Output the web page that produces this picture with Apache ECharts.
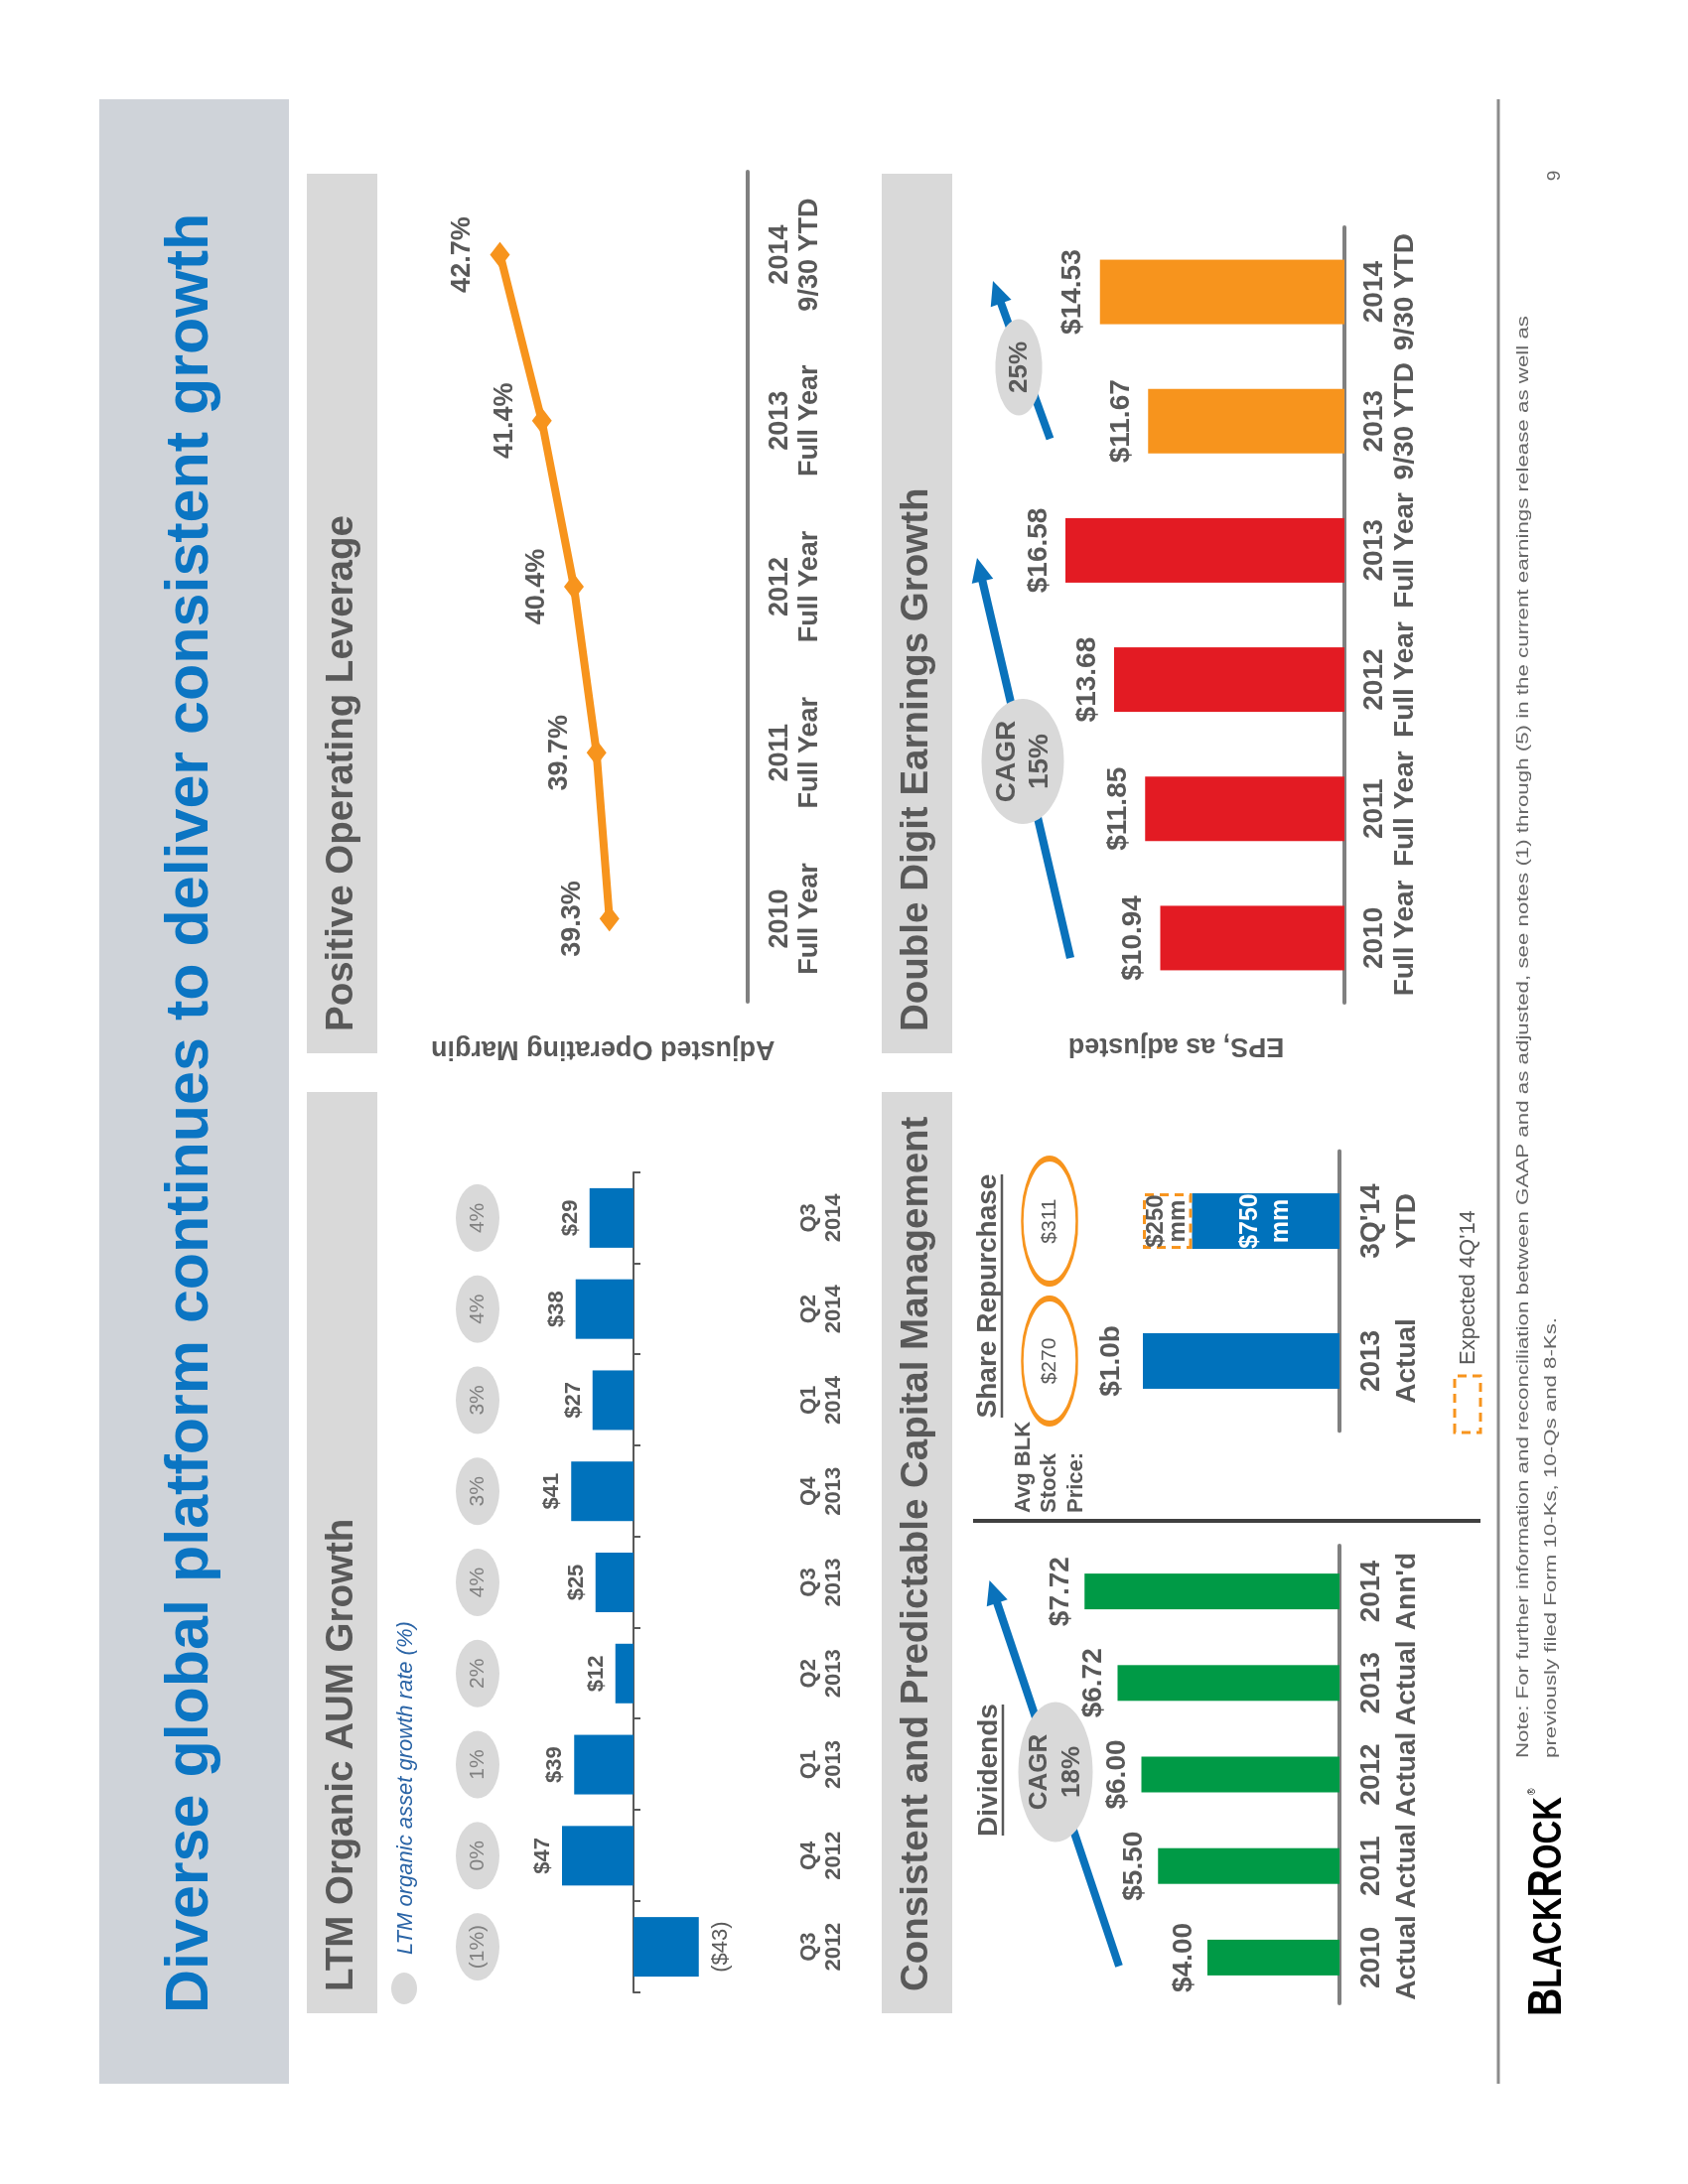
<!DOCTYPE html>
<html><head><meta charset="utf-8">
<script src="https://cdn.jsdelivr.net/npm/echarts@6/dist/echarts.min.js"></script>
<style>
html,body{margin:0;padding:0;background:#fff;width:1700px;height:2200px;overflow:hidden;}
#chart{position:absolute;left:0;top:0;width:2200px;height:1700px;transform-origin:0 0;transform:translate(0,2200px) rotate(-90deg);background:#fff;}
</style></head><body><div id="chart"></div>
<script>
// ---------------- data ----------------
const aumQuarters = ['Q3\n2012','Q4\n2012','Q1\n2013','Q2\n2013','Q3\n2013','Q4\n2013','Q1\n2014','Q2\n2014','Q3\n2014'];
const aumFlows = [-43, 47, 39, 12, 25, 41, 27, 38, 29];            // $bn
const aumGrowthRates = ['(1%)','0%','1%','2%','4%','3%','3%','4%','4%'];
const marginPeriods = ['2010\nFull Year','2011\nFull Year','2012\nFull Year','2013\nFull Year','2014\n9/30 YTD'];
const marginValues = [39.3, 39.7, 40.4, 41.4, 42.7];               // %
const epsPeriods = ['2010\nFull Year','2011\nFull Year','2012\nFull Year','2013\nFull Year','2013\n9/30 YTD','2014\n9/30 YTD'];
const epsValues = [10.94, 11.85, 13.68, 16.58, 11.67, 14.53];
const dividendPeriods = ['2010\nActual','2011\nActual','2012\nActual','2013\nActual',"2014\nAnn'd"];
const dividendValues = [4.00, 5.50, 6.00, 6.72, 7.72];
const repurchasePeriods = ['2013\nActual',"3Q'14\nYTD"];
const repurchaseActual = [1000, 750];     // $mm
const repurchaseExpected = [0, 250];      // $mm, expected 4Q'14
const avgStockPrice = [270, 311];
const dividendCagr = '18%', epsCagr = '15%', epsYtdGrowth = '25%';

// ---------------- styles ----------------
const FONTNAME = '"Liberation Sans", Arial, Helvetica, sans-serif';
const GRAY = '#595959', BLUE = '#0a72bb', ORANGE = '#f7941d', RED = '#e31b23', GREEN = '#009a46';
const mctx = document.createElement('canvas').getContext('2d');
function tw(t, f){ mctx.font = f; return mctx.measureText(t).width; }
function T(x, y, text, o){
  o = o || {};
  return {type:'text', x:x, y:y, z:o.z||10, scaleX:o.scaleX||1,
    style:{text:text, fill:o.fill||GRAY, fontSize:o.fontSize||20, fontWeight:o.fontWeight||'normal',
      fontStyle:o.fontStyle||'normal', fontFamily:FONTNAME, align:o.align||'left', verticalAlign:'middle',
      textAlign:o.align||'left', textVerticalAlign:'middle', lineHeight:o.lineHeight||undefined}};
}
function rect(x,y,w,h,fill){ return {type:'rect', z:1, shape:{x:x,y:y,width:w,height:h}, style:{fill:fill}}; }
function line(x1,y1,x2,y2,w,c){ return {type:'line', z:5, shape:{x1:x1,y1:y1,x2:x2,y2:y2}, style:{stroke:c,lineWidth:w}}; }
function ell(cx,cy,rx,ry,fill){ return {type:'ellipse', z:7, shape:{cx:cx,cy:cy,rx:rx,ry:ry}, style:{fill:fill}}; }
function arrow(x1,y1,x2,y2,w,hl,hw,c){
  const dx=x2-x1, dy=y2-y1, L=Math.hypot(dx,dy), ux=dx/L, uy=dy/L;
  const bx=x2-ux*hl, by=y2-uy*hl, px=-uy, py=ux;
  return [
    {type:'line', z:6, shape:{x1:x1,y1:y1,x2:bx+ux*2,y2:by+uy*2}, style:{stroke:c,lineWidth:w}},
    {type:'polygon', z:6, shape:{points:[[x2,y2],[bx+px*hw/2,by+py*hw/2],[bx-px*hw/2,by-py*hw/2]]}, style:{fill:c}}
  ];
}

// ---------------- graphics (slide furniture) ----------------
const G = [];
G.push(rect(101,100,1999,191,'#cfd3d9'));
G.push(T(172,192.5,'Diverse global platform continues to deliver consistent growth',{fontSize:61,fontWeight:'bold',fill:'#0b75c3'}));
[[172,309,928,'LTM Organic AUM Growth'],[1139,309,886,'Positive Operating Leverage'],
 [172,888,928,'Consistent and Predictable Capital Management'],[1139,888,886,'Double Digit Earnings Growth']]
 .forEach(function(h){ G.push(rect(h[0],h[1],h[2],71,'#d9d9d9')); G.push(T(h[0]+22,h[1]+35.5,h[3],{fontSize:38.5,fontWeight:'bold'})); });
// LTM legend
G.push(ell(197,407,16,13,'#d9d9d9'));
G.push(T(231,409,'LTM organic asset growth rate (%)',{fontSize:22,fontStyle:'italic',fill:'#2a64a6'}));
// Dividend CAGR
G.push.apply(G, arrow(219.5,1127,608,996.6,8,24,22,BLUE));
G.push(ell(415,1063,70.5,37.5,'#d9d9d9'));
G.push(T(415,1063.5,'CAGR\n'+dividendCagr,{fontSize:26,fontWeight:'bold',align:'center',lineHeight:33}));
// EPS CAGR
G.push.apply(G, arrow(1235,1078,1638,984,8,24,22,BLUE));
G.push(ell(1433,1030,63,41.5,'#d9d9d9'));
G.push(T(1433,1030.5,'CAGR\n'+epsCagr,{fontSize:28,fontWeight:'bold',align:'center',lineHeight:33}));
G.push.apply(G, arrow(1758,1057.5,1917,1000,8,24,22,BLUE));
G.push(ell(1830,1026,48.5,23.5,'#d9d9d9'));
G.push(T(1830,1027,epsYtdGrowth,{fontSize:26,fontWeight:'bold',align:'center'}));
// Capital management sub headings
G.push(T(417,996,'Dividends',{fontSize:28,fontWeight:'bold',align:'center'}));
G.push(line(351,1010,483,1010,2.5,GRAY));
G.push(T(894.5,995,'Share Repurchase',{fontSize:28,fontWeight:'bold',align:'center'}));
G.push(line(772,1009,1017,1009,2.5,GRAY));
G.push(T(676,1057,'Avg BLK\nStock\nPrice:',{fontSize:22,fontWeight:'bold',lineHeight:26.5}));
G.push(line(668,980,668,1491,4,'#404040'));
G.push({type:'rect', z:5, shape:{x:757,y:1465,width:57,height:26}, style:{fill:'none',stroke:ORANGE,lineWidth:3,lineDash:[9,6]}});
G.push(T(825,1479,"Expected 4Q'14",{fontSize:22}));
// footer
G.push(line(101,1509,2100,1509,3,'#8c8c8c'));
const note1 = 'Note: For further information and reconciliation between GAAP and as adjusted, see notes (1) through (5) in the current earnings release as well as';
const note2 = 'previously filed Form 10-Ks, 10-Qs and 8-Ks.';
const nf = '16px "Liberation Sans"';
G.push(T(429,1534.5,note1,{fontSize:16,fill:'#666',scaleX:1453/tw(note1,nf)}));
G.push(T(429,1562.5,note2,{fontSize:16,fill:'#666',scaleX:444/tw(note2,nf)}));
G.push(T(2023,1566,'9',{fontSize:19,align:'center',fill:'#666'}));
// logo
(function(){
  const parts=[['B',49],['LACK',41],['R',49],['OCK',41]];
  let cx=0; const kids=[];
  parts.forEach(function(p){
    const f='bold '+p[1]+'px "Liberation Sans"';
    kids.push({type:'text', x:cx, y:1575-0.3465*p[1], style:{text:p[0], fill:'#000', fontSize:p[1], fontWeight:'bold', fontFamily:FONTNAME, verticalAlign:'middle', textVerticalAlign:'middle', align:'left', textAlign:'left'}});
    cx += tw(p[0],f);
  });
  const s = 221/cx;
  kids.push({type:'text', x:cx+2/s, y:1543, style:{text:'\u00AE', fill:'#000', fontSize:11, fontFamily:FONTNAME, verticalAlign:'middle', textVerticalAlign:'middle'}});
  G.push({type:'group', x:169, y:0, scaleX:s, z:10, children:kids});
})();

// ---------------- axes ----------------
function catAxis(grid, data, o){
  o = o || {};
  return {type:'category', gridIndex:grid, data:data, show:o.show!==false,
    axisLine:{show:true, onZero:true, lineStyle:{color:o.lineColor||'#808080', width:o.lineWidth||4}},
    axisTick:{show:!!o.ticks, length:7, lineStyle:{color:GRAY, width:2}},
    axisLabel:{interval:0, margin:o.margin||15, color:GRAY, fontSize:o.fontSize||28, fontWeight:'bold', lineHeight:o.lineHeight||31, fontFamily:FONTNAME},
    splitLine:{show:false}};
}
function valAxis(grid, min, max, name, gap){
  return {type:'value', gridIndex:grid, min:min, max:max, show:!!name,
    axisLine:{show:false}, axisTick:{show:false}, axisLabel:{show:false}, splitLine:{show:false},
    name:name||'', nameLocation:'middle', nameRotate:90, nameGap:gap||30,
    nameTextStyle:{color:GRAY, fontSize:27, fontWeight:'bold', fontFamily:FONTNAME}};
}
const grids = [
  {left:193, top:561.5, width:826, height:153},
  {left:193, top:470, width:826, height:22},
  {left:1191, top:461.4, width:836, height:291.6},
  {left:1190, top:1015, width:781, height:339},
  {left:182, top:1016.5, width:461, height:332.5},
  {left:758.6, top:1052, width:281.8, height:297},
  {left:758.6, top:1046, width:281.8, height:22}
].map(function(g){ return Object.assign({containLabel:false, outerBoundsMode:'none'}, g); });

const xAxes = [
  catAxis(0, aumQuarters, {lineColor:GRAY, lineWidth:2, ticks:true, margin:88, fontSize:22, lineHeight:25}),
  catAxis(1, aumQuarters, {show:false}),
  catAxis(2, marginPeriods, {margin:18, fontSize:27, lineHeight:30}),
  catAxis(3, epsPeriods, {margin:15, fontSize:28, lineHeight:31}),
  catAxis(4, dividendPeriods, {margin:14, fontSize:28, lineHeight:36}),
  catAxis(5, repurchasePeriods, {margin:14, fontSize:28, lineHeight:36}),
  catAxis(6, repurchasePeriods, {show:false})
];
const yAxes = [
  valAxis(0,-50,50), valAxis(1,0,1),
  valAxis(2,35,44,'Adjusted Operating Margin',34),
  valAxis(3,0,20,'EPS, as adjusted',30),
  valAxis(4,0,10), valAxis(5,0,1500), valAxis(6,0,1)
];

const lbl = {show:true, color:GRAY, fontWeight:'bold', fontFamily:FONTNAME};
const series = [
  {type:'bar', xAxisIndex:0, yAxisIndex:0, barWidth:60, itemStyle:{color:'#0072bc'},
    label:Object.assign({}, lbl, {fontSize:22, formatter:function(p){ return p.value<0 ? '($'+(-p.value)+')' : '$'+p.value; }}),
    data:aumFlows.map(function(v){ return {value:v, label:{position:v<0?'bottom':'top', distance:v<0?11:8, fontWeight:v<0?'normal':'bold'}}; })},
  {type:'scatter', xAxisIndex:1, yAxisIndex:1, symbol:'circle', symbolSize:[68,44], itemStyle:{color:'#d9d9d9', opacity:1},
    label:{show:true, position:'inside', color:'#808080', fontSize:21, fontFamily:FONTNAME, formatter:'{b}'},
    data:aumGrowthRates.map(function(r){ return {name:r, value:0.5}; })},
  {type:'line', xAxisIndex:2, yAxisIndex:2, data:marginValues, symbol:'diamond', symbolSize:[26,20],
    lineStyle:{color:ORANGE, width:8}, itemStyle:{color:ORANGE},
    label:Object.assign({}, lbl, {position:'top', distance:14, fontSize:27, formatter:function(p){ return p.value.toFixed(1)+'%'; }})},
  {type:'bar', xAxisIndex:3, yAxisIndex:3, barWidth:65,
    label:Object.assign({}, lbl, {position:'top', distance:13, fontSize:28, formatter:function(p){ return '$'+p.value.toFixed(2); }}),
    data:epsValues.map(function(v,i){ return {value:v, itemStyle:{color:epsPeriods[i].indexOf('YTD')>=0?ORANGE:RED}}; })},
  {type:'bar', xAxisIndex:4, yAxisIndex:4, barWidth:36, itemStyle:{color:GREEN}, data:dividendValues,
    label:Object.assign({}, lbl, {position:'top', distance:10, fontSize:28, formatter:function(p){ return '$'+p.value.toFixed(2); }})},
  {type:'bar', xAxisIndex:5, yAxisIndex:5, barWidth:56, stack:'rep', itemStyle:{color:'#0072bc'},
    label:Object.assign({}, lbl, {fontSize:28, formatter:function(p){ return p.value>=1000 ? '$'+(p.value/1000).toFixed(1)+'b' : '$'+p.value+'\nmm'; }}),
    data:repurchaseActual.map(function(v){ return v>=1000 ? {value:v, label:{position:'top', distance:18}} : {value:v, label:{position:'inside', color:'#fff', fontSize:25, lineHeight:31}}; })},
  {type:'bar', xAxisIndex:5, yAxisIndex:5, barWidth:56, stack:'rep',
    itemStyle:{color:'#ffffff', borderColor:ORANGE, borderWidth:3, borderType:[9,6]},
    label:Object.assign({}, lbl, {position:'inside', fontSize:24, lineHeight:22, formatter:function(p){ return '$'+p.value+'\nmm'; }}),
    data:repurchaseExpected.map(function(v){ return v>0 ? v : '-'; })},
  {type:'scatter', xAxisIndex:6, yAxisIndex:6, symbol:'circle', symbolSize:[126,55],
    itemStyle:{color:'rgba(255,255,255,0)', borderColor:ORANGE, borderWidth:4, opacity:1},
    label:{show:true, position:'inside', color:GRAY, fontSize:21, fontFamily:FONTNAME, formatter:'{b}'},
    data:avgStockPrice.map(function(p){ return {name:'$'+p, value:0.5}; })}
];

const chart = echarts.init(document.getElementById('chart'), null, {renderer:'canvas', width:2200, height:1700});
chart.setOption({
  animation:false,
  backgroundColor:'#ffffff',
  textStyle:{fontFamily:FONTNAME},
  grid:grids, xAxis:xAxes, yAxis:yAxes, series:series,
  graphic:{elements:G}
});
</script></body></html>
